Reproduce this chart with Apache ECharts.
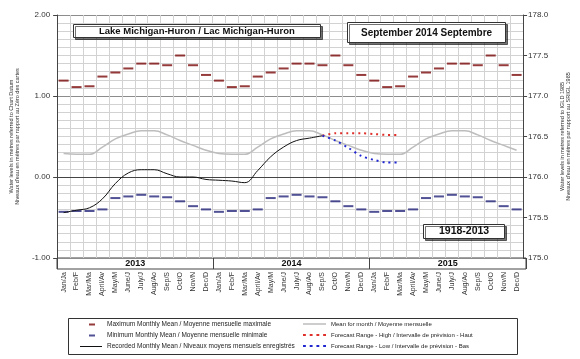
<!DOCTYPE html>
<html><head><meta charset="utf-8">
<script src="https://cdn.jsdelivr.net/npm/echarts@6/dist/echarts.min.js"></script>
<style>html,body{margin:0;padding:0;background:#fff}#c{width:580px;height:359px}</style>
</head><body><div id="c"></div>
<script>
// ---- data ----
const years = ['2013', '2014', '2015'];
const monthLabels = ['Jan/Ja','Feb/F','Mar/Ma','April/Av','May/M','June/J','July/J','Aug/Ao','Sep/S','Oct/O','Nov/N','Dec/D'];
const maxMonthly  = [1.19, 1.11, 1.12, 1.24, 1.29, 1.34, 1.40, 1.40, 1.38, 1.50, 1.38, 1.26];
const minMonthly  = [-0.43, -0.42, -0.42, -0.40, -0.26, -0.24, -0.22, -0.24, -0.25, -0.30, -0.36, -0.40];
const meanMonthly = [0.29, 0.28, 0.28, 0.37, 0.47, 0.53, 0.57, 0.57, 0.52, 0.45, 0.39, 0.33];
// Jan 2013 .. Sep 2014
const recorded = [-0.44, -0.41, -0.38, -0.27, -0.08, 0.05, 0.09, 0.09, 0.04, 0.00, 0.00, -0.03,
                  -0.04, -0.05, -0.07, 0.08, 0.25, 0.37, 0.45, 0.48, 0.51];
// Sep 2014 .. Mar 2015
const forecastHigh = [0.51, 0.54, 0.54, 0.54, 0.53, 0.52, 0.52];
const forecastLow  = [0.51, 0.45, 0.36, 0.26, 0.21, 0.18, 0.18];
const forecastStartIndex = 20;
const leftRange = [-1, 2];
const rightRange = [175, 178];

const names = {
  max: 'Maximum Monthly Mean / Moyenne mensuelle maximale',
  min: 'Minimum Monthly Mean / Moyenne mensuelle minimale',
  rec: 'Recorded Monthly Mean / Niveaux moyens mensuels enregistrés',
  mean: 'Mean for month / Moyenne mensuelle',
  hi: 'Forecast Range - High / Intervalle de prévision - Haut',
  lo: 'Forecast Range - Low / Intervalle de prévision - Bas'
};

// ---- build ----
const categories = [];
years.forEach(y => monthLabels.forEach(m => categories.push(y + '|' + m)));
const maxData = categories.map((c, i) => maxMonthly[i % 12]);
const minData = categories.map((c, i) => minMonthly[i % 12]);
const meanData = categories.map((c, i) => meanMonthly[i % 12]);
const hiData = forecastHigh.map((v, i) => [forecastStartIndex + i, v]);
const loData = forecastLow.map((v, i) => [forecastStartIndex + i, v]);

const FONT = 'Liberation Sans, Arial, sans-serif';
const chart = echarts.init(document.getElementById('c'), null, {renderer: 'canvas'});

const DASH_ICON = 'path://M0,0h3v2h-3zM7,0h3v2h-3zM14,0h3v2h-3zM21,0h3v2h-3z';
const BAR_ICON = 'path://M0,0h26v1h-26z';

function lg(item, left, top, w, h, size, textPad) {
  return {
    data: [item], left: left, top: top, orient: 'vertical', padding: 0,
    itemWidth: w, itemHeight: h, selectedMode: false, symbolKeepAspect: false,
    textStyle: {fontSize: size, color: '#222', fontFamily: FONT, padding: textPad || 0}
  };
}

chart.setOption({
  animation: false,
  backgroundColor: '#fff',
  textStyle: {fontFamily: FONT},
  title: [
    {text: 'Lake Michigan-Huron / Lac Michigan-Huron', left: 73, top: 24, padding: [2, 26, 2, 26],
     backgroundColor: '#fff', borderColor: '#333', borderWidth: 1,
     shadowColor: 'rgba(0,0,0,0.55)', shadowOffsetX: 2, shadowOffsetY: 2, shadowBlur: 0,
     textStyle: {fontSize: 9.5, fontWeight: 'bold', color: '#111', fontFamily: FONT}},
    {text: 'September 2014 Septembre', left: 347, top: 22, padding: [6, 14, 5, 14],
     backgroundColor: '#fff', borderColor: '#333', borderWidth: 1,
     shadowColor: 'rgba(0,0,0,0.55)', shadowOffsetX: 2, shadowOffsetY: 2, shadowBlur: 0,
     textStyle: {fontSize: 10, fontWeight: 'bold', color: '#111', fontFamily: FONT}},
    {text: '1918-2013', left: 423, top: 224, padding: [2, 16, 2, 16],
     backgroundColor: '#fff', borderColor: '#333', borderWidth: 1,
     shadowColor: 'rgba(0,0,0,0.55)', shadowOffsetX: 2, shadowOffsetY: 2, shadowBlur: 0,
     textStyle: {fontSize: 10.5, fontWeight: 'bold', color: '#111', fontFamily: FONT}}
  ],
  graphic: [
    {type: 'rect', shape: {x: 68.5, y: 318.5, width: 449, height: 36}, style: {fill: 'none', stroke: '#333', lineWidth: 1}, silent: true}
  ],
  legend: [
    lg({name: names.max, icon: 'rect'}, 89, 321, 6, 2, 6.5, [0, 0, 0, 7]),
    lg({name: names.min, icon: 'rect'}, 89, 332, 6, 2, 6.5, [0, 0, 0, 7]),
    lg({name: names.rec, icon: BAR_ICON}, 80, 343, 22, 1, 6.5),
    lg({name: names.mean, icon: BAR_ICON}, 303, 321, 23, 1.5, 6),
    lg({name: names.hi, icon: DASH_ICON}, 303, 332, 23, 2, 6),
    lg({name: names.lo, icon: DASH_ICON}, 303, 343, 23, 2, 6)
  ],
  grid: [
    {left: 52.5, right: 50, top: 15, bottom: 101},
    {left: 57, right: 54, top: 258, height: 11, show: true, borderColor: '#444', borderWidth: 1}
  ],
  xAxis: [
    {type: 'category', gridIndex: 0, data: categories, boundaryGap: true,
     axisLine: {show: true, lineStyle: {color: '#444'}}, axisTick: {show: false},
     axisLabel: {interval: 0, rotate: 90, fontSize: 7, color: '#333', margin: 14,
                 formatter: v => v.split('|')[1]},
     splitLine: {show: true, interval: 0, lineStyle: {color: '#d2d2d2', width: 1}}},
    {type: 'category', gridIndex: 1, data: years, boundaryGap: true, position: 'bottom',
     axisLine: {show: false},
     axisTick: {show: true, inside: true, length: 11, interval: 0, lineStyle: {color: '#444'}},
     axisLabel: {margin: -10, fontSize: 9, fontWeight: 'bold', color: '#111'},
     splitLine: {show: false}}
  ],
  yAxis: [
    {type: 'value', gridIndex: 0, min: leftRange[0], max: leftRange[1], interval: 1, position: 'left',
     axisLine: {show: true, lineStyle: {color: '#444'}},
     axisTick: {show: true, length: 4, lineStyle: {color: '#444'}},
     axisLabel: {formatter: v => v.toFixed(2), fontSize: 8, color: '#333', margin: 7},
     splitLine: {show: true, lineStyle: {color: '#8c8c8c'}},
     minorTick: {show: false, splitNumber: 10},
     minorSplitLine: {show: true, lineStyle: {color: '#d2d2d2'}},
     name: 'Water levels in metres referred to Chart Datum\nNiveaux d\'eau en mètres par rapport au Zéro des cartes',
     nameLocation: 'middle', nameRotate: 90, nameGap: 29,
     nameTextStyle: {fontSize: 5.5, lineHeight: 6.5, color: '#333'}},
    {type: 'value', gridIndex: 0, min: rightRange[0], max: rightRange[1], interval: 0.5, position: 'right',
     axisLine: {show: true, lineStyle: {color: '#444'}},
     axisTick: {show: true, length: 4, lineStyle: {color: '#444'}},
     axisLabel: {formatter: v => v.toFixed(1), fontSize: 8, color: '#333', margin: 5},
     splitLine: {show: false},
     name: 'Water levels in metres referred to IGLD 1985\nNiveaux d\'eau en mètres par rapport au SRIGL 1985',
     nameLocation: 'middle', nameRotate: 90, nameGap: 31,
     nameTextStyle: {fontSize: 5.5, lineHeight: 6.5, color: '#333'}},
    {type: 'value', gridIndex: 1, show: false}
  ],
  series: [
    {name: names.mean, type: 'line', data: meanData, smooth: 0.4, symbol: 'none',
     lineStyle: {color: '#bdbdbd', width: 1.5}, itemStyle: {color: '#bdbdbd'}, z: 2},
    {name: names.max, type: 'scatter', data: maxData, symbol: 'rect', symbolSize: [10, 2],
     itemStyle: {color: '#7a0a0a'}, z: 3},
    {name: names.min, type: 'scatter', data: minData, symbol: 'rect', symbolSize: [10, 2],
     itemStyle: {color: '#25257a'}, z: 3},
    {name: names.rec, type: 'line', data: recorded, smooth: 0.4, symbol: 'none',
     lineStyle: {color: '#111', width: 1}, itemStyle: {color: '#111'}, z: 4},
    {name: names.hi, type: 'line', data: hiData, smooth: 0.3, symbol: 'none',
     lineStyle: {color: '#e0302c', width: 2, type: [2, 4]}, itemStyle: {color: '#e0302c'}, z: 5},
    {name: names.lo, type: 'line', data: loData, smooth: 0.3, symbol: 'none',
     lineStyle: {color: '#2228d0', width: 2, type: [2, 4]}, itemStyle: {color: '#2228d0'}, z: 5}
  ]
});
</script>
</body></html>
